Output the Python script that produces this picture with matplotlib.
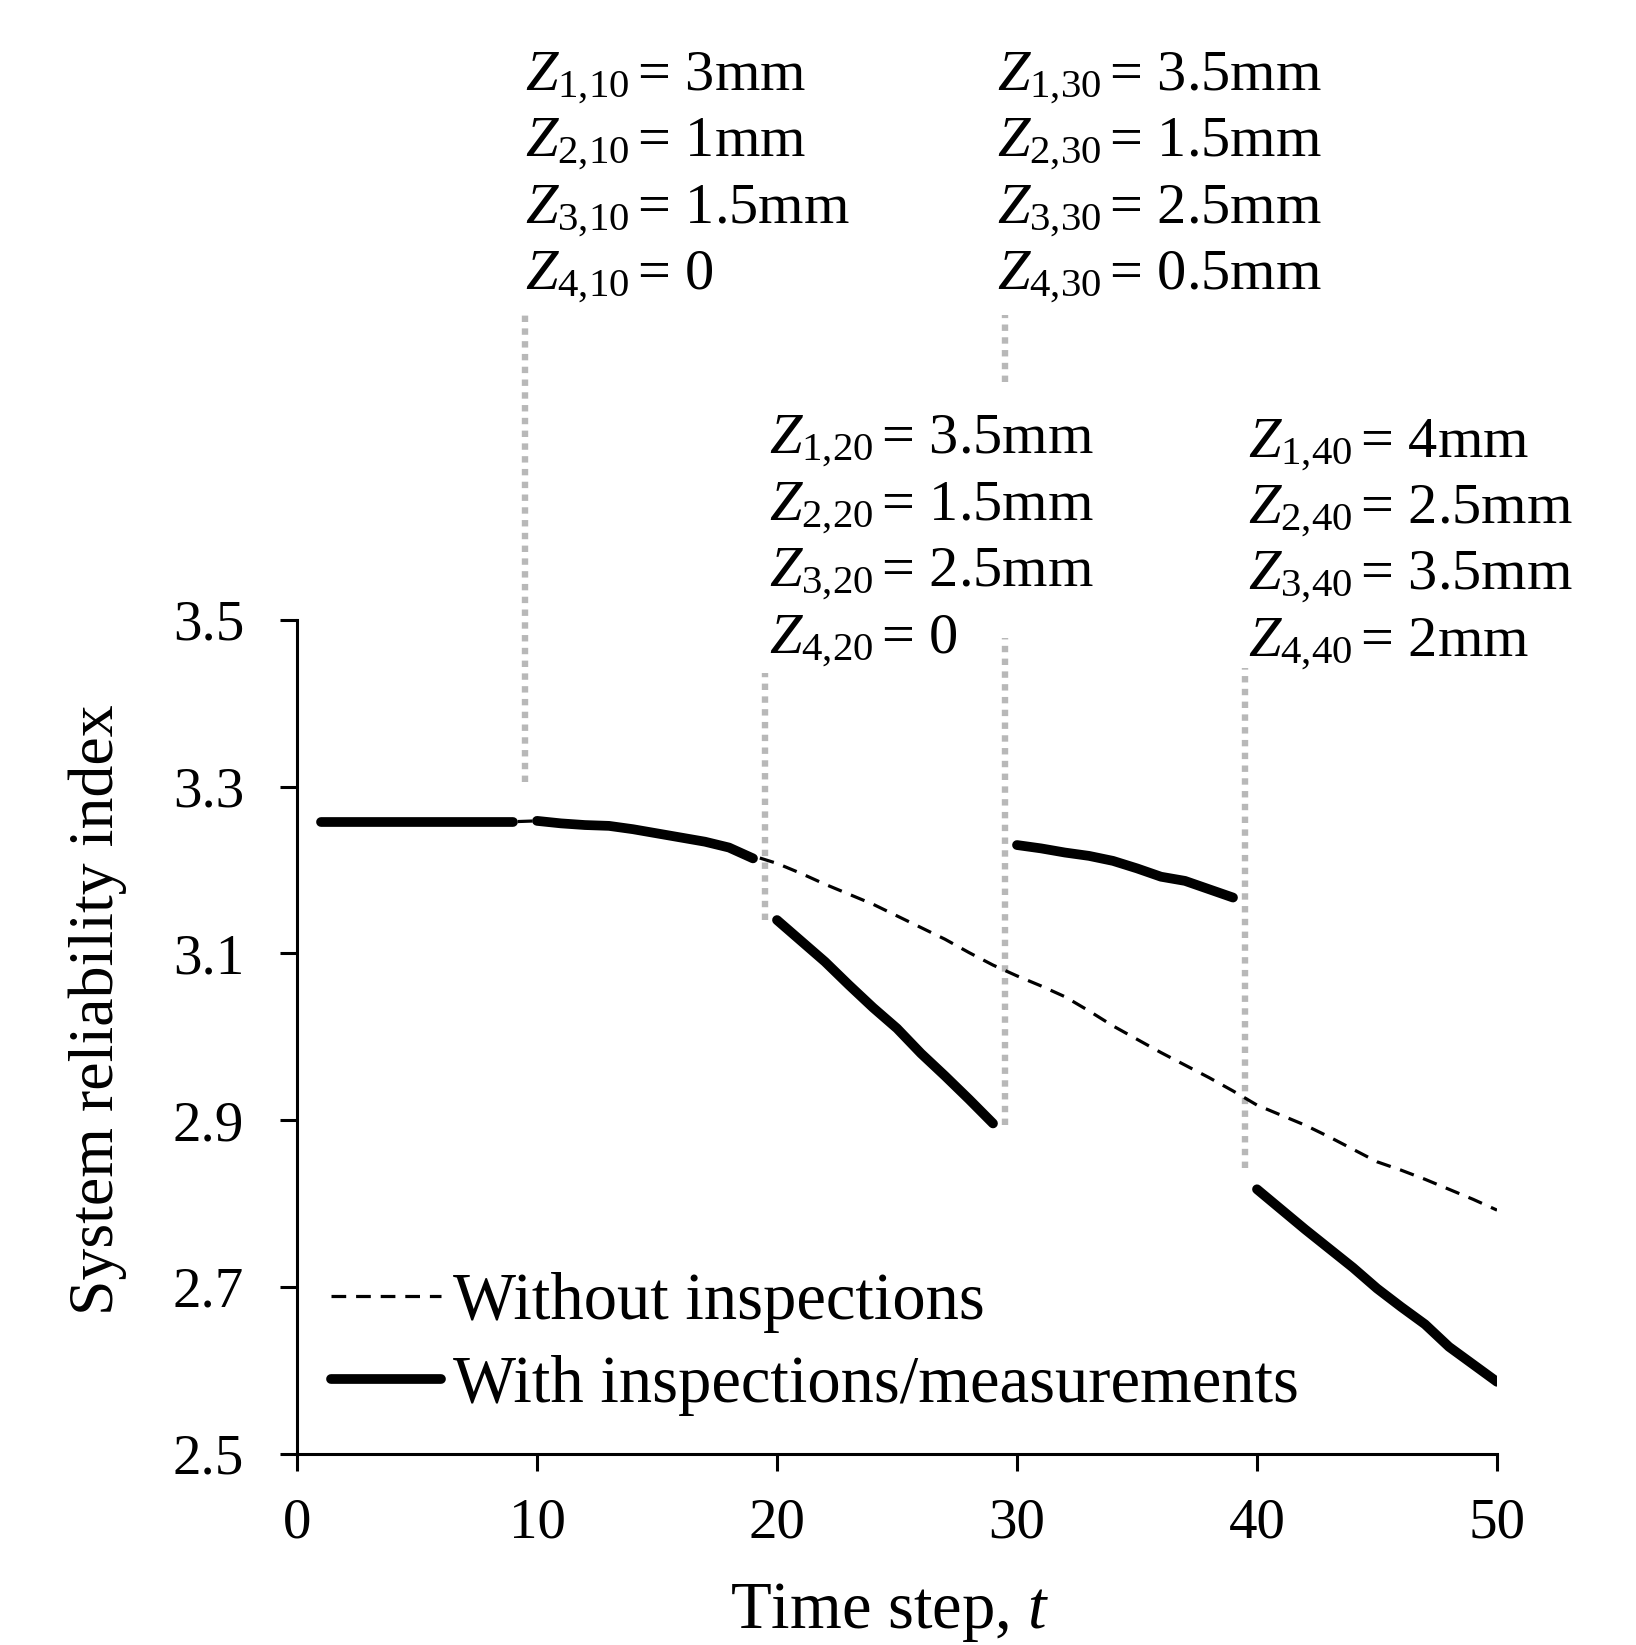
import matplotlib
matplotlib.use("Agg")
import matplotlib.pyplot as plt
import numpy as np

plt.rcParams['font.family'] = ['Liberation Serif', 'DejaVu Serif']
plt.rcParams['mathtext.fontset'] = 'custom'
plt.rcParams['mathtext.rm'] = 'Liberation Serif'
plt.rcParams['mathtext.it'] = 'Liberation Serif:italic'

# ---------------- data ----------------
t_without = list(range(1, 51))
beta_without = [3.258]*9 + [3.259, 3.257, 3.255, 3.253, 3.249, 3.244, 3.239, 3.234, 3.227, 3.217,
                3.208, 3.196, 3.183, 3.171, 3.159, 3.145, 3.131, 3.117, 3.101, 3.086,
                3.073, 3.061, 3.048, 3.031, 3.013, 2.997, 2.981, 2.966, 2.951, 2.935,
                2.918, 2.906, 2.894, 2.880, 2.865, 2.850, 2.840, 2.829, 2.817, 2.805, 2.792]

seg_t = [list(range(1, 10)), list(range(10, 20)), list(range(20, 30)),
         list(range(30, 40)), list(range(40, 51))]
seg_beta = [
    [3.258]*9,
    [3.259, 3.256, 3.254, 3.253, 3.249, 3.244, 3.239, 3.234, 3.227, 3.214],
    [3.140, 3.115, 3.090, 3.062, 3.035, 3.010, 2.980, 2.953, 2.925, 2.896],
    [3.230, 3.226, 3.221, 3.217, 3.211, 3.202, 3.192, 3.187, 3.177, 3.167],
    [2.817, 2.793, 2.769, 2.746, 2.723, 2.698, 2.676, 2.655, 2.628, 2.607, 2.586],
]

insp_times = [10, 20, 30, 40]
vline_spans = [[(3.306, 3.866)],
               [(3.140, 3.437)],
               [(2.894, 3.479), (3.785, 3.866)],
               [(2.843, 3.443)]]

z_labels = [
    [r"$Z_{1{,}10}\,$= 3mm", r"$Z_{2{,}10}\,$= 1mm", r"$Z_{3{,}10}\,$= 1.5mm", r"$Z_{4{,}10}\,$= 0"],
    [r"$Z_{1{,}20}\,$= 3.5mm", r"$Z_{2{,}20}\,$= 1.5mm", r"$Z_{3{,}20}\,$= 2.5mm", r"$Z_{4{,}20}\,$= 0"],
    [r"$Z_{1{,}30}\,$= 3.5mm", r"$Z_{2{,}30}\,$= 1.5mm", r"$Z_{3{,}30}\,$= 2.5mm", r"$Z_{4{,}30}\,$= 0.5mm"],
    [r"$Z_{1{,}40}\,$= 4mm", r"$Z_{2{,}40}\,$= 2.5mm", r"$Z_{3{,}40}\,$= 3.5mm", r"$Z_{4{,}40}\,$= 2mm"],
]
# text block anchor (left x in data units, first baseline in data units)
z_anchor = [(9.48, 4.135), (19.67, 3.699), (29.15, 4.135), (39.64, 3.695)]

xticks = [0, 10, 20, 30, 40, 50]
yticks = [2.5, 2.7, 2.9, 3.1, 3.3, 3.5]

# ---------------- figure ----------------
W, H = 1636, 1645
fig = plt.figure(figsize=(W/100, H/100), dpi=100)
ax = fig.add_axes([297/W, 1 - 1453.5/H, 1200/W, 833.5/H])

FS_TICK = 41
FS_ANN = 42
FS_LAB = 48

for t0, spans in zip(insp_times, vline_spans):
    for (lo, hi) in spans:
        ax.plot([t0 - 0.5, t0 - 0.5], [lo, hi], color='#b8b8b8', lw=4.6,
                dashes=(1, 1), solid_capstyle='butt', dash_capstyle='butt',
                clip_on=False, zorder=1)

ax.plot(t_without, beta_without, color='black', lw=2.3, dashes=(4.6, 3.1),
        label='Without inspections', zorder=2)
for i, (tt, bb) in enumerate(zip(seg_t, seg_beta)):
    ax.plot(tt, bb, color='black', lw=7, solid_capstyle='round',
            solid_joinstyle='round', zorder=3,
            label='With inspections/measurements' if i == 0 else None)

line_step = 0.0797
for labels, (x0, y0) in zip(z_labels, z_anchor):
    for k, s in enumerate(labels):
        ax.text(x0, y0 - k*line_step, s, fontsize=FS_ANN, ha='left', va='baseline',
                clip_on=False)

ax.set_xlim(0, 50)
ax.set_ylim(2.5, 3.5)
ax.set_xticks(xticks)
ax.set_yticks(yticks)
ax.set_yticklabels([f"{v:.1f}" for v in yticks])
ax.spines['top'].set_visible(False)
ax.spines['right'].set_visible(False)
for sp in ['left', 'bottom']:
    ax.spines[sp].set_linewidth(2.2)
ax.tick_params(axis='both', direction='out', length=12, width=2.2,
               labelsize=FS_TICK)
ax.tick_params(axis='x', pad=20)
ax.tick_params(axis='y', pad=26)

ax.set_xlabel('Time step, $t$', fontsize=FS_LAB)
ax.set_ylabel('System reliability index', fontsize=46)
ax.xaxis.set_label_coords(0.494, -0.153)
ax.yaxis.set_label_coords(-0.142, 0.533)

leg = ax.legend(loc='lower left', bbox_to_anchor=(0.028, 0.045), frameon=False,
                fontsize=FS_LAB, handlelength=1.65, handletextpad=0.19,
                labelspacing=0.33, borderpad=0, borderaxespad=0)

fig.savefig('out.png', dpi=100)
